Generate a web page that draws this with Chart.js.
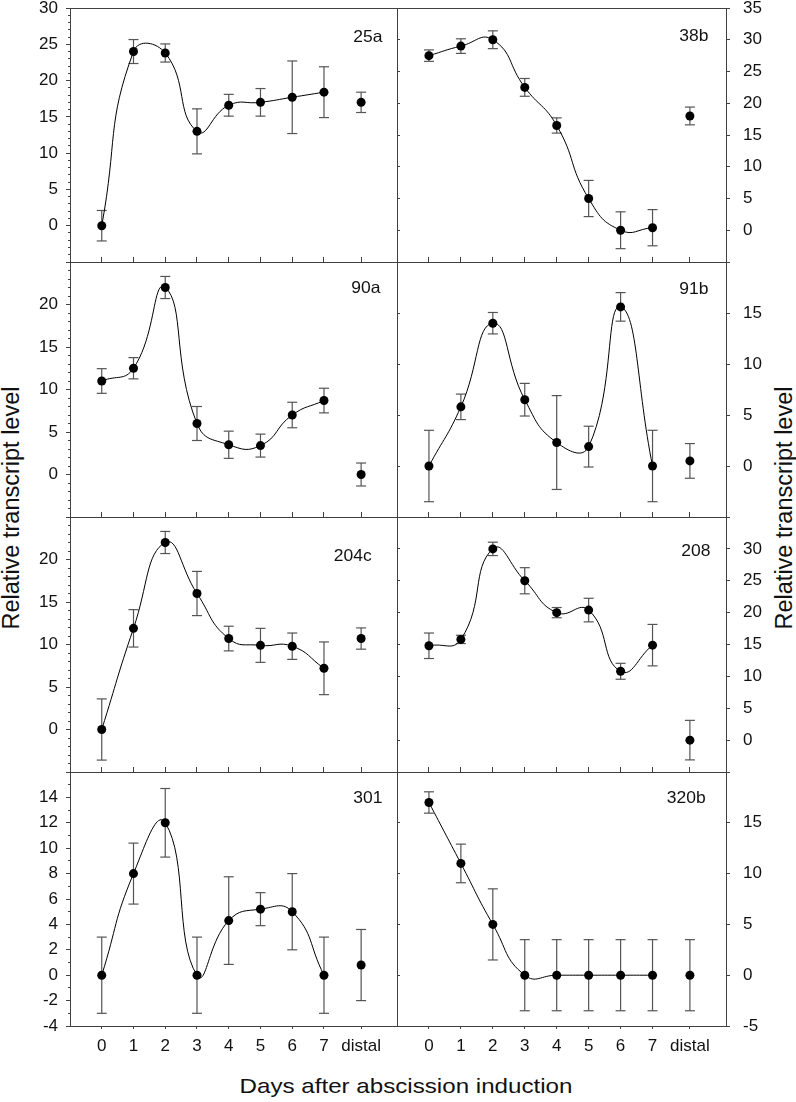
<!DOCTYPE html>
<html>
<head>
<meta charset="utf-8">
<script src="https://cdn.jsdelivr.net/npm/chart.js@4.4.1/dist/chart.umd.min.js"></script>
<style>
  html, body { margin: 0; padding: 0; background: #fff; }
  #page { position: relative; width: 796px; height: 1102px; background: #fff; overflow: hidden;
          font-family: "Liberation Sans", Arial, sans-serif; color: #111; }
  #page canvas { position: absolute; left: 0; top: 0; }
  .tag { position: absolute; font-size: 16.5px; line-height: 1; white-space: nowrap;
         transform: scaleX(1.06); transform-origin: right center; }
  .ytitle { position: absolute; font-size: 23.5px; line-height: 1; white-space: nowrap;
            transform: translate(-50%, -50%) rotate(-90deg); }
  .xtitle { position: absolute; font-size: 21px; line-height: 1; white-space: nowrap;
            transform: translate(-50%, -50%) scaleX(1.15); }
</style>
</head>
<body>
<div id="page">
  <div class="ytitle" style="left:12px; top:508px">Relative transcript level</div>
  <div class="ytitle" style="left:785px; top:508px">Relative transcript level</div>
  <div class="xtitle" style="left:406px; top:1085px">Days after abscission induction</div>
</div>
<script>
// x positions: days 0..7, then the distal sample
const days = [0, 1, 2, 3, 4, 5, 6, 7];
const distalX = 8.17;
const xTickLabels = ["0", "1", "2", "3", "4", "5", "6", "7", "distal"];
const genes = ["25a", "38b", "90a", "91b", "204c", "208", "301", "320b"];

// mean and error for day 0..7, last value = distal
const mean25a = [0, 24, 23.8, 13, 16.6, 17, 17.7, 18.4, 17];
const err25a  = [2.1, 1.65, 1.25, 3.1, 1.5, 1.9, 5.0, 3.5, 1.4];
const mean38b = [27.5, 29, 30, 22.5, 16.5, 5, 0, 0.4, 18];
const err38b  = [0.9, 1.15, 1.4, 1.4, 1.2, 2.85, 2.9, 2.85, 1.4];
const mean90a = [11, 12.5, 22, 6, 3.5, 3.4, 7, 8.7, 0];
const err90a  = [1.45, 1.25, 1.3, 2.0, 1.6, 1.35, 1.5, 1.45, 1.35];
const mean91b = [0, 5.8, 14, 6.5, 2.3, 1.9, 15.6, 0, 0.5];
const err91b  = [3.5, 1.25, 1.05, 1.6, 4.6, 2.0, 1.4, 3.5, 1.7];
const mean204c = [0, 11.9, 22, 16, 10.7, 9.9, 9.8, 7.2, 10.7];
const err204c  = [3.6, 2.2, 1.3, 2.6, 1.45, 2.0, 1.55, 3.1, 1.25];
const mean208 = [14.8, 15.8, 30, 25, 20, 20.4, 10.8, 14.9, 0];
const err208  = [2.0, 0.65, 1.05, 2.05, 0.8, 1.85, 1.25, 3.25, 3.1];
const mean301 = [0, 8, 12, 0, 4.3, 5.2, 5, 0, 0.8];
const err301  = [3.0, 2.4, 2.7, 3.0, 3.45, 1.3, 3.0, 3.0, 2.8];
const mean320b = [17, 11, 5, 0, 0, 0, 0, 0, 0];
const err320b  = [1.05, 1.9, 3.5, 3.5, 3.5, 3.5, 3.5, 3.5, 3.5];

// labelled y ticks per panel
const yTicks25a = [0, 5, 10, 15, 20, 25, 30];
const yTicks38b = [0, 5, 10, 15, 20, 25, 30, 35];
const yTicks90a = [0, 5, 10, 15, 20];
const yTicks91b = [0, 5, 10, 15];
const yTicks204c = [0, 5, 10, 15, 20];
const yTicks208 = [0, 5, 10, 15, 20, 25, 30];
const yTicks301 = [-4, -2, 0, 2, 4, 6, 8, 10, 12, 14];
const yTicks320b = [-5, 0, 5, 10, 15];

const panels = [
  { mean: mean25a, err: err25a, ticks: yTicks25a, min: -5, max: 30, step: 5 },
  { mean: mean38b, err: err38b, ticks: yTicks38b, min: -5, max: 35, step: 5 },
  { mean: mean90a, err: err90a, ticks: yTicks90a, min: -5, max: 25, step: 5 },
  { mean: mean91b, err: err91b, ticks: yTicks91b, min: -5, max: 20, step: 5 },
  { mean: mean204c, err: err204c, ticks: yTicks204c, min: -5, max: 25, step: 5 },
  { mean: mean208, err: err208, ticks: yTicks208, min: -5, max: 35, step: 5 },
  { mean: mean301, err: err301, ticks: yTicks301, min: -4, max: 16, step: 2 },
  { mean: mean320b, err: err320b, ticks: yTicks320b, min: -5, max: 20, step: 5 }
];

// layout (pixels)
const W = 796, H = 1102;
const AXW = 40; // room kept for tick labels
const colEdges = [[70, 397], [397, 726]];
const rowEdges = [[8, 262], [262, 517], [517, 772], [772, 1026]];
const tagPos = [[383, 42], [709, 41], [381, 293], [709, 294], [372, 561], [711, 556], [383, 803], [706, 803]];

const axisColor = "#404040";
const errColor = "#555";
const tickFont = { family: "'Liberation Sans', Arial, sans-serif", size: 17 };

const page = document.getElementById("page");
const xTickValues = days.concat([distalX]);

function noPad(s) { s.paddingLeft = s.paddingRight = s.paddingTop = s.paddingBottom = 0; }
function flatX(s) { s.height = 0; noPad(s); }
function flatY(s) { s.width = 0; noPad(s); }
function labelX(s) { s.height = AXW; noPad(s); }
function labelY(s) { s.width = AXW; noPad(s); }
function setXTicks(s) { s.ticks = xTickValues.map(v => ({ value: v })); }

panels.forEach((p, i) => {
  const col = i % 2, row = Math.floor(i / 2);
  const [L, R] = colEdges[col];
  const [T, B] = rowEdges[row];
  const lastRow = row === 3;

  const canvas = document.createElement("canvas");
  canvas.width = W;
  canvas.height = H;
  page.appendChild(canvas);

  const curve = days.map((d, k) => ({ x: d, y: p.mean[k] }));
  const distal = [{ x: distalX, y: p.mean[8] }];
  const bars = [];
  xTickValues.forEach((x, k) => {
    bars.push({ x, y: p.mean[k] - p.err[k] }, { x, y: p.mean[k] + p.err[k] }, { x, y: null });
  });

  const scales = {
    x: {
      type: "linear", position: "bottom", min: -1, max: 9.3,
      afterBuildTicks: setXTicks, afterFit: lastRow ? labelX : flatX,
      ticks: {
        display: lastRow, autoSkip: false, maxRotation: 0, minRotation: 0,
        padding: 7, font: tickFont, color: "#111",
        callback: (v, k) => xTickLabels[k]
      },
      grid: { drawOnChartArea: false, drawTicks: lastRow, tickLength: 3, tickColor: axisColor },
      border: { display: true, color: axisColor, width: 1 }
    },
    x2: {
      type: "linear", position: "top", min: -1, max: 9.3,
      afterBuildTicks: setXTicks, afterFit: flatX,
      ticks: { display: false },
      grid: { drawOnChartArea: false, drawTicks: row > 0, tickLength: 5, tickColor: axisColor },
      border: { display: true, color: axisColor, width: 1 }
    },
    y: {
      type: "linear", position: col === 0 ? "left" : "right", min: p.min, max: p.max,
      afterFit: labelY,
      ticks: {
        stepSize: p.step, maxTicksLimit: 100, autoSkip: false,
        padding: col === 0 ? 8 : 13, font: tickFont, color: "#111",
        callback: v => (p.ticks.includes(v) ? String(v) : "")
      },
      grid: { drawOnChartArea: false, tickLength: 4, tickColor: axisColor },
      border: { display: true, color: axisColor, width: 1 }
    },
    y2: {
      type: "linear", position: col === 0 ? "right" : "left", min: p.min, max: p.max,
      afterFit: flatY,
      ticks: { display: false, stepSize: p.step, maxTicksLimit: 100 },
      grid: { drawOnChartArea: false, drawTicks: col === 1, tickLength: -3, tickColor: axisColor },
      border: { display: true, color: axisColor, width: 1 }
    }
  };
  if (col === 0) {
    // minor ticks every unit on the left axis, kept next to the plot edge
    scales.yMinor = {
      type: "linear", position: "left", min: p.min, max: p.max, weight: -1,
      afterFit: flatY,
      ticks: { display: false, stepSize: 1, maxTicksLimit: 100 },
      grid: { drawOnChartArea: false, tickLength: 2, tickColor: axisColor },
      border: { display: false }
    };
  }

  new Chart(canvas, {
    type: "line",
    data: {
      datasets: [
        {
          data: curve, borderColor: "#000", borderWidth: 1, tension: 0.5,
          pointRadius: 4.5, pointBackgroundColor: "#000", pointBorderColor: "#000", pointBorderWidth: 0
        },
        {
          data: distal, showLine: false,
          pointRadius: 4.5, pointBackgroundColor: "#000", pointBorderColor: "#000", pointBorderWidth: 0
        },
        {
          data: bars, borderColor: errColor, borderWidth: 1.2, tension: 0, spanGaps: false,
          pointStyle: "line", pointRadius: 5, pointBorderColor: errColor, pointBorderWidth: 1.2
        }
      ]
    },
    options: {
      responsive: false,
      animation: false,
      devicePixelRatio: 1,
      events: [],
      layout: {
        padding: {
          left: col === 0 ? L - AXW : L,
          top: T,
          right: col === 1 ? W - R - AXW : W - R,
          bottom: lastRow ? H - B - AXW : H - B
        }
      },
      scales,
      plugins: { legend: { display: false }, tooltip: { enabled: false } }
    }
  });

  const tag = document.createElement("div");
  tag.className = "tag";
  tag.textContent = genes[i];
  tag.style.right = (W - tagPos[i][0]) + "px";
  tag.style.top = (tagPos[i][1] - 14) + "px";
  page.appendChild(tag);
});
</script>
</body>
</html>
